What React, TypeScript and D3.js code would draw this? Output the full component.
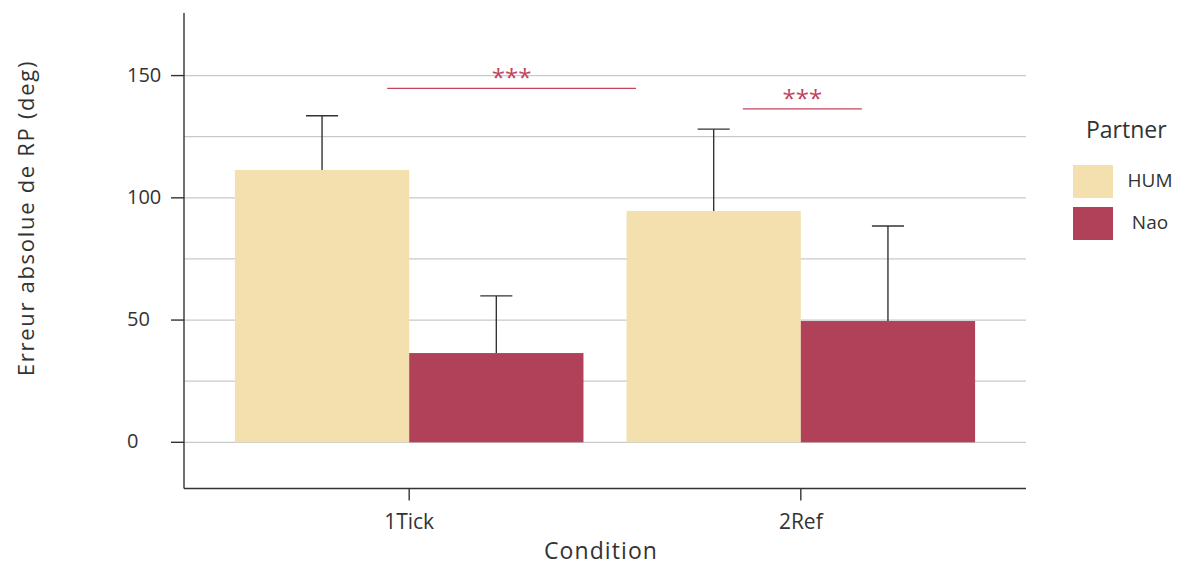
import * as d3 from 'd3';
import {useEffect, useRef} from 'react';

const width = 1180;
const height = 565;

const conditions = ['1Tick', '2Ref'];
const partners = ['HUM', 'Nao'];
const partnerColors = ['#f4e0ae', '#b04158'];

// mean and upper error (mean + sd) per condition, one list per partner
const humMean = [111.4, 94.6];
const humUpper = [133.6, 128.1];
const naoMean = [36.5, 49.6];
const naoUpper = [59.9, 88.5];

const yTicks = [0, 50, 100, 150];
const yGrid = [0, 25, 50, 75, 100, 125, 150];

// significance brackets, x in condition units (0 = 1Tick, 1 = 2Ref)
const sigFrom = [-0.056, 0.852];
const sigTo = [0.579, 1.156];
const sigY = [144.8, 136.4];
const sigLabel = ['***', '***'];

const font = '"Open Sans", sans-serif';
const textColor = '#333';

function App() {
  const ref = useRef<HTMLDivElement>(null);

  useEffect(() => {
    const left = 184;
    const right = 1026;
    const top = 13;
    const bottom = 488.5;

    const x = d3
      .scaleBand()
      .domain(conditions)
      .range([left, right])
      .paddingInner(0.11)
      .paddingOuter(0.13);
    const xSub = d3
      .scaleBand()
      .domain(partners)
      .range([0, x.bandwidth()]);
    const xPos = d3
      .scaleLinear()
      .domain([0, 1])
      .range([x(conditions[0])! + x.bandwidth() / 2, x(conditions[1])! + x.bandwidth() / 2]);
    const y = d3.scaleLinear().domain([-18.9, 175.6]).range([bottom, top]);
    const color = d3.scaleOrdinal<string>().domain(partners).range(partnerColors);

    const rows = conditions.flatMap((c, i) => [
      {cond: c, partner: 'HUM', mean: humMean[i], upper: humUpper[i]},
      {cond: c, partner: 'Nao', mean: naoMean[i], upper: naoUpper[i]},
    ]);

    const svg = d3
      .select(ref.current)
      .append('svg')
      .attr('width', width)
      .attr('height', height)
      .style('position', 'absolute')
      .style('left', 0)
      .style('top', 0)
      .style('background', '#fff')
      .style('font-family', font);

    // grid
    svg
      .append('g')
      .selectAll('line')
      .data(yGrid)
      .join('line')
      .attr('x1', left)
      .attr('x2', right)
      .attr('y1', d => y(d))
      .attr('y2', d => y(d))
      .attr('stroke', '#c9c9c9')
      .attr('stroke-width', 1.2);

    // error bars (upper part only)
    const cap = xSub.bandwidth() * 0.184;
    const eb = svg.append('g').attr('stroke', '#333').attr('stroke-width', 1.4);
    rows.forEach(r => {
      const cx = x(r.cond)! + xSub(r.partner)! + xSub.bandwidth() / 2;
      eb.append('line')
        .attr('x1', cx)
        .attr('x2', cx)
        .attr('y1', y(r.mean))
        .attr('y2', y(r.upper));
      eb.append('line')
        .attr('x1', cx - cap / 2)
        .attr('x2', cx + cap / 2)
        .attr('y1', y(r.upper))
        .attr('y2', y(r.upper));
    });

    // bars
    svg
      .append('g')
      .selectAll('rect')
      .data(rows)
      .join('rect')
      .attr('x', d => x(d.cond)! + xSub(d.partner)!)
      .attr('width', xSub.bandwidth())
      .attr('y', d => y(d.mean))
      .attr('height', d => y(0) - y(d.mean))
      .attr('fill', d => color(d.partner));

    // significance
    const sig = svg.append('g');
    sigLabel.forEach((lab, i) => {
      sig
        .append('line')
        .attr('x1', xPos(sigFrom[i]))
        .attr('x2', xPos(sigTo[i]))
        .attr('y1', y(sigY[i]))
        .attr('y2', y(sigY[i]))
        .attr('stroke', '#c2445e')
        .attr('stroke-width', 1.3);
      sig
        .append('text')
        .attr('x', xPos((sigFrom[i] + sigTo[i]) / 2))
        .attr('y', y(sigY[i]) - 2)
        .attr('text-anchor', 'middle')
        .attr('fill', '#c2445e')
        .attr('font-size', 24)
        .text(lab);
    });

    // y axis
    const ya = svg.append('g');
    ya.append('line')
      .attr('x1', left)
      .attr('x2', left)
      .attr('y1', top)
      .attr('y2', bottom)
      .attr('stroke', '#333')
      .attr('stroke-width', 1.4);
    yTicks.forEach(t => {
      ya.append('line')
        .attr('x1', left - 13)
        .attr('x2', left)
        .attr('y1', y(t))
        .attr('y2', y(t))
        .attr('stroke', '#333')
        .attr('stroke-width', 1.4);
      ya.append('text')
        .attr('x', 127)
        .attr('y', y(t))
        .attr('dy', '0.3em')
        .attr('font-size', 20)
        .attr('fill', textColor)
        .text(t);
    });

    // x axis
    const xa = svg.append('g');
    xa.append('line')
      .attr('x1', left)
      .attr('x2', right)
      .attr('y1', bottom)
      .attr('y2', bottom)
      .attr('stroke', '#333')
      .attr('stroke-width', 1.4);
    conditions.forEach(c => {
      const cx = x(c)! + x.bandwidth() / 2;
      xa.append('line')
        .attr('x1', cx)
        .attr('x2', cx)
        .attr('y1', bottom)
        .attr('y2', bottom + 12)
        .attr('stroke', '#333')
        .attr('stroke-width', 1.4);
      xa.append('text')
        .attr('x', cx)
        .attr('y', 529)
        .attr('text-anchor', 'middle')
        .attr('font-size', 21)
        .attr('fill', textColor)
        .text(c);
    });

    svg
      .append('text')
      .attr('x', 601)
      .attr('y', 559)
      .attr('text-anchor', 'middle')
      .attr('font-size', 23)
      .attr('letter-spacing', 1.1)
      .attr('fill', textColor)
      .text('Condition');

    svg
      .append('text')
      .attr('transform', `translate(34, 218) rotate(-90)`)
      .attr('text-anchor', 'middle')
      .attr('font-size', 22)
      .attr('letter-spacing', 1.7)
      .attr('fill', textColor)
      .text('Erreur absolue de RP (deg)');

    // legend
    const lg = svg.append('g');
    lg.append('text')
      .attr('x', 1086)
      .attr('y', 138)
      .attr('font-size', 23)
      .attr('fill', textColor)
      .text('Partner');
    const keyY = [165, 207];
    const labY = [187, 229];
    partners.forEach((p, i) => {
      lg.append('rect')
        .attr('x', 1073)
        .attr('y', keyY[i])
        .attr('width', 40)
        .attr('height', 33)
        .attr('fill', color(p));
      lg.append('text')
        .attr('x', 1150)
        .attr('y', labY[i])
        .attr('text-anchor', 'middle')
        .attr('font-size', 19)
        .attr('fill', textColor)
        .text(p);
    });

    return () => {
      svg.remove();
    };
  }, []);

  return <div ref={ref}></div>;
}

export default App;
